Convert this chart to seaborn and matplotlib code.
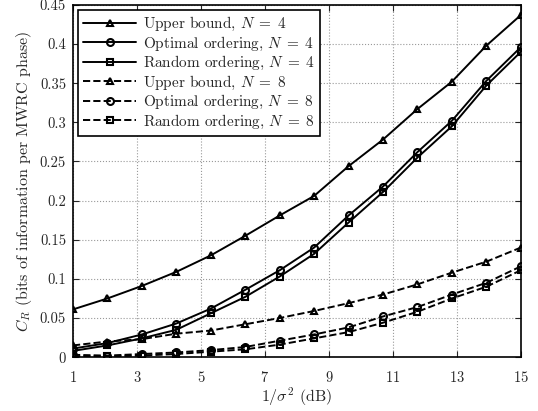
import matplotlib
matplotlib.use('Agg')
import matplotlib.pyplot as plt
import numpy as np
import seaborn as sns

snr = np.linspace(1, 15, 14)

upper_n4 = [0.061, 0.075, 0.091, 0.109, 0.130, 0.155, 0.181, 0.206, 0.244, 0.278, 0.317, 0.352, 0.398, 0.437]
opt_n4 = [0.011, 0.018, 0.029, 0.043, 0.062, 0.086, 0.111, 0.140, 0.181, 0.218, 0.262, 0.302, 0.353, 0.396]
rand_n4 = [0.008, 0.015, 0.024, 0.035, 0.056, 0.077, 0.103, 0.132, 0.172, 0.211, 0.255, 0.295, 0.347, 0.390]
upper_n8 = [0.015, 0.020, 0.023, 0.030, 0.034, 0.042, 0.050, 0.059, 0.069, 0.080, 0.093, 0.108, 0.122, 0.140]
opt_n8 = [0.003, 0.002, 0.004, 0.006, 0.009, 0.013, 0.021, 0.029, 0.038, 0.052, 0.064, 0.080, 0.095, 0.116]
rand_n8 = [0.001, 0.001, 0.002, 0.004, 0.007, 0.010, 0.016, 0.024, 0.032, 0.044, 0.058, 0.075, 0.090, 0.111]

series = [
    (upper_n4, '^', '-', r'Upper bound, $N\;=\;4$'),
    (opt_n4, 'o', '-', r'Optimal ordering, $N\;=\;4$'),
    (rand_n4, 's', '-', r'Random ordering, $N\;=\;4$'),
    (upper_n8, '^', '--', r'Upper bound, $N\;=\;8$'),
    (opt_n8, 'o', '--', r'Optimal ordering, $N\;=\;8$'),
    (rand_n8, 's', '--', r'Random ordering, $N\;=\;8$'),
]

sns.set_style('ticks')
plt.rcParams['font.family'] = 'serif'
plt.rcParams['font.serif'] = ['cmr10', 'DejaVu Serif']
plt.rcParams['mathtext.fontset'] = 'cm'
plt.rcParams['axes.formatter.use_mathtext'] = True

fig = plt.figure(figsize=(5.38, 4.11), dpi=100)
ax = fig.add_axes([0.1357, 0.131, 0.8323, 0.857])

for vals, mk, ls, lab in series:
    sns.lineplot(x=snr, y=vals, ax=ax, color='k', linestyle=ls, linewidth=1.4,
                 marker=mk, markersize=5, markerfacecolor='none',
                 markeredgecolor='k', markeredgewidth=1.5, label=lab)

ax.set_xlim(1, 15)
ax.set_ylim(0, 0.45)
ax.set_xticks(np.arange(1, 16, 2))
yt = np.arange(0, 0.451, 0.05)
ax.set_yticks(yt)
ax.set_yticklabels(['0'] + ['%g' % round(v, 2) for v in yt[1:]])
ax.grid(True, linestyle=':', color='#999999', linewidth=0.8)
ax.tick_params(direction='in', top=True, right=True, length=4, labelsize=10.5)
ax.tick_params(axis='x', pad=9)
ax.tick_params(axis='y', pad=5)
for s in ax.spines.values():
    s.set_linewidth(1.2)
    s.set_color('k')
ax.set_xlabel(r'$1/\sigma^2$ (dB)', fontsize=11.5, labelpad=1)
ax.set_ylabel(r'$C_R$ (bits of information per MWRC phase)', fontsize=11.5, labelpad=4)

leg = ax.legend(loc='upper left', fontsize=11, handlelength=3.5, labelspacing=0.1,
                borderaxespad=0.3, fancybox=False, framealpha=1, edgecolor='k',
                borderpad=0.35, handletextpad=0.4)
leg.get_frame().set_linewidth(1.2)

fig.savefig('out.png', dpi=100)
